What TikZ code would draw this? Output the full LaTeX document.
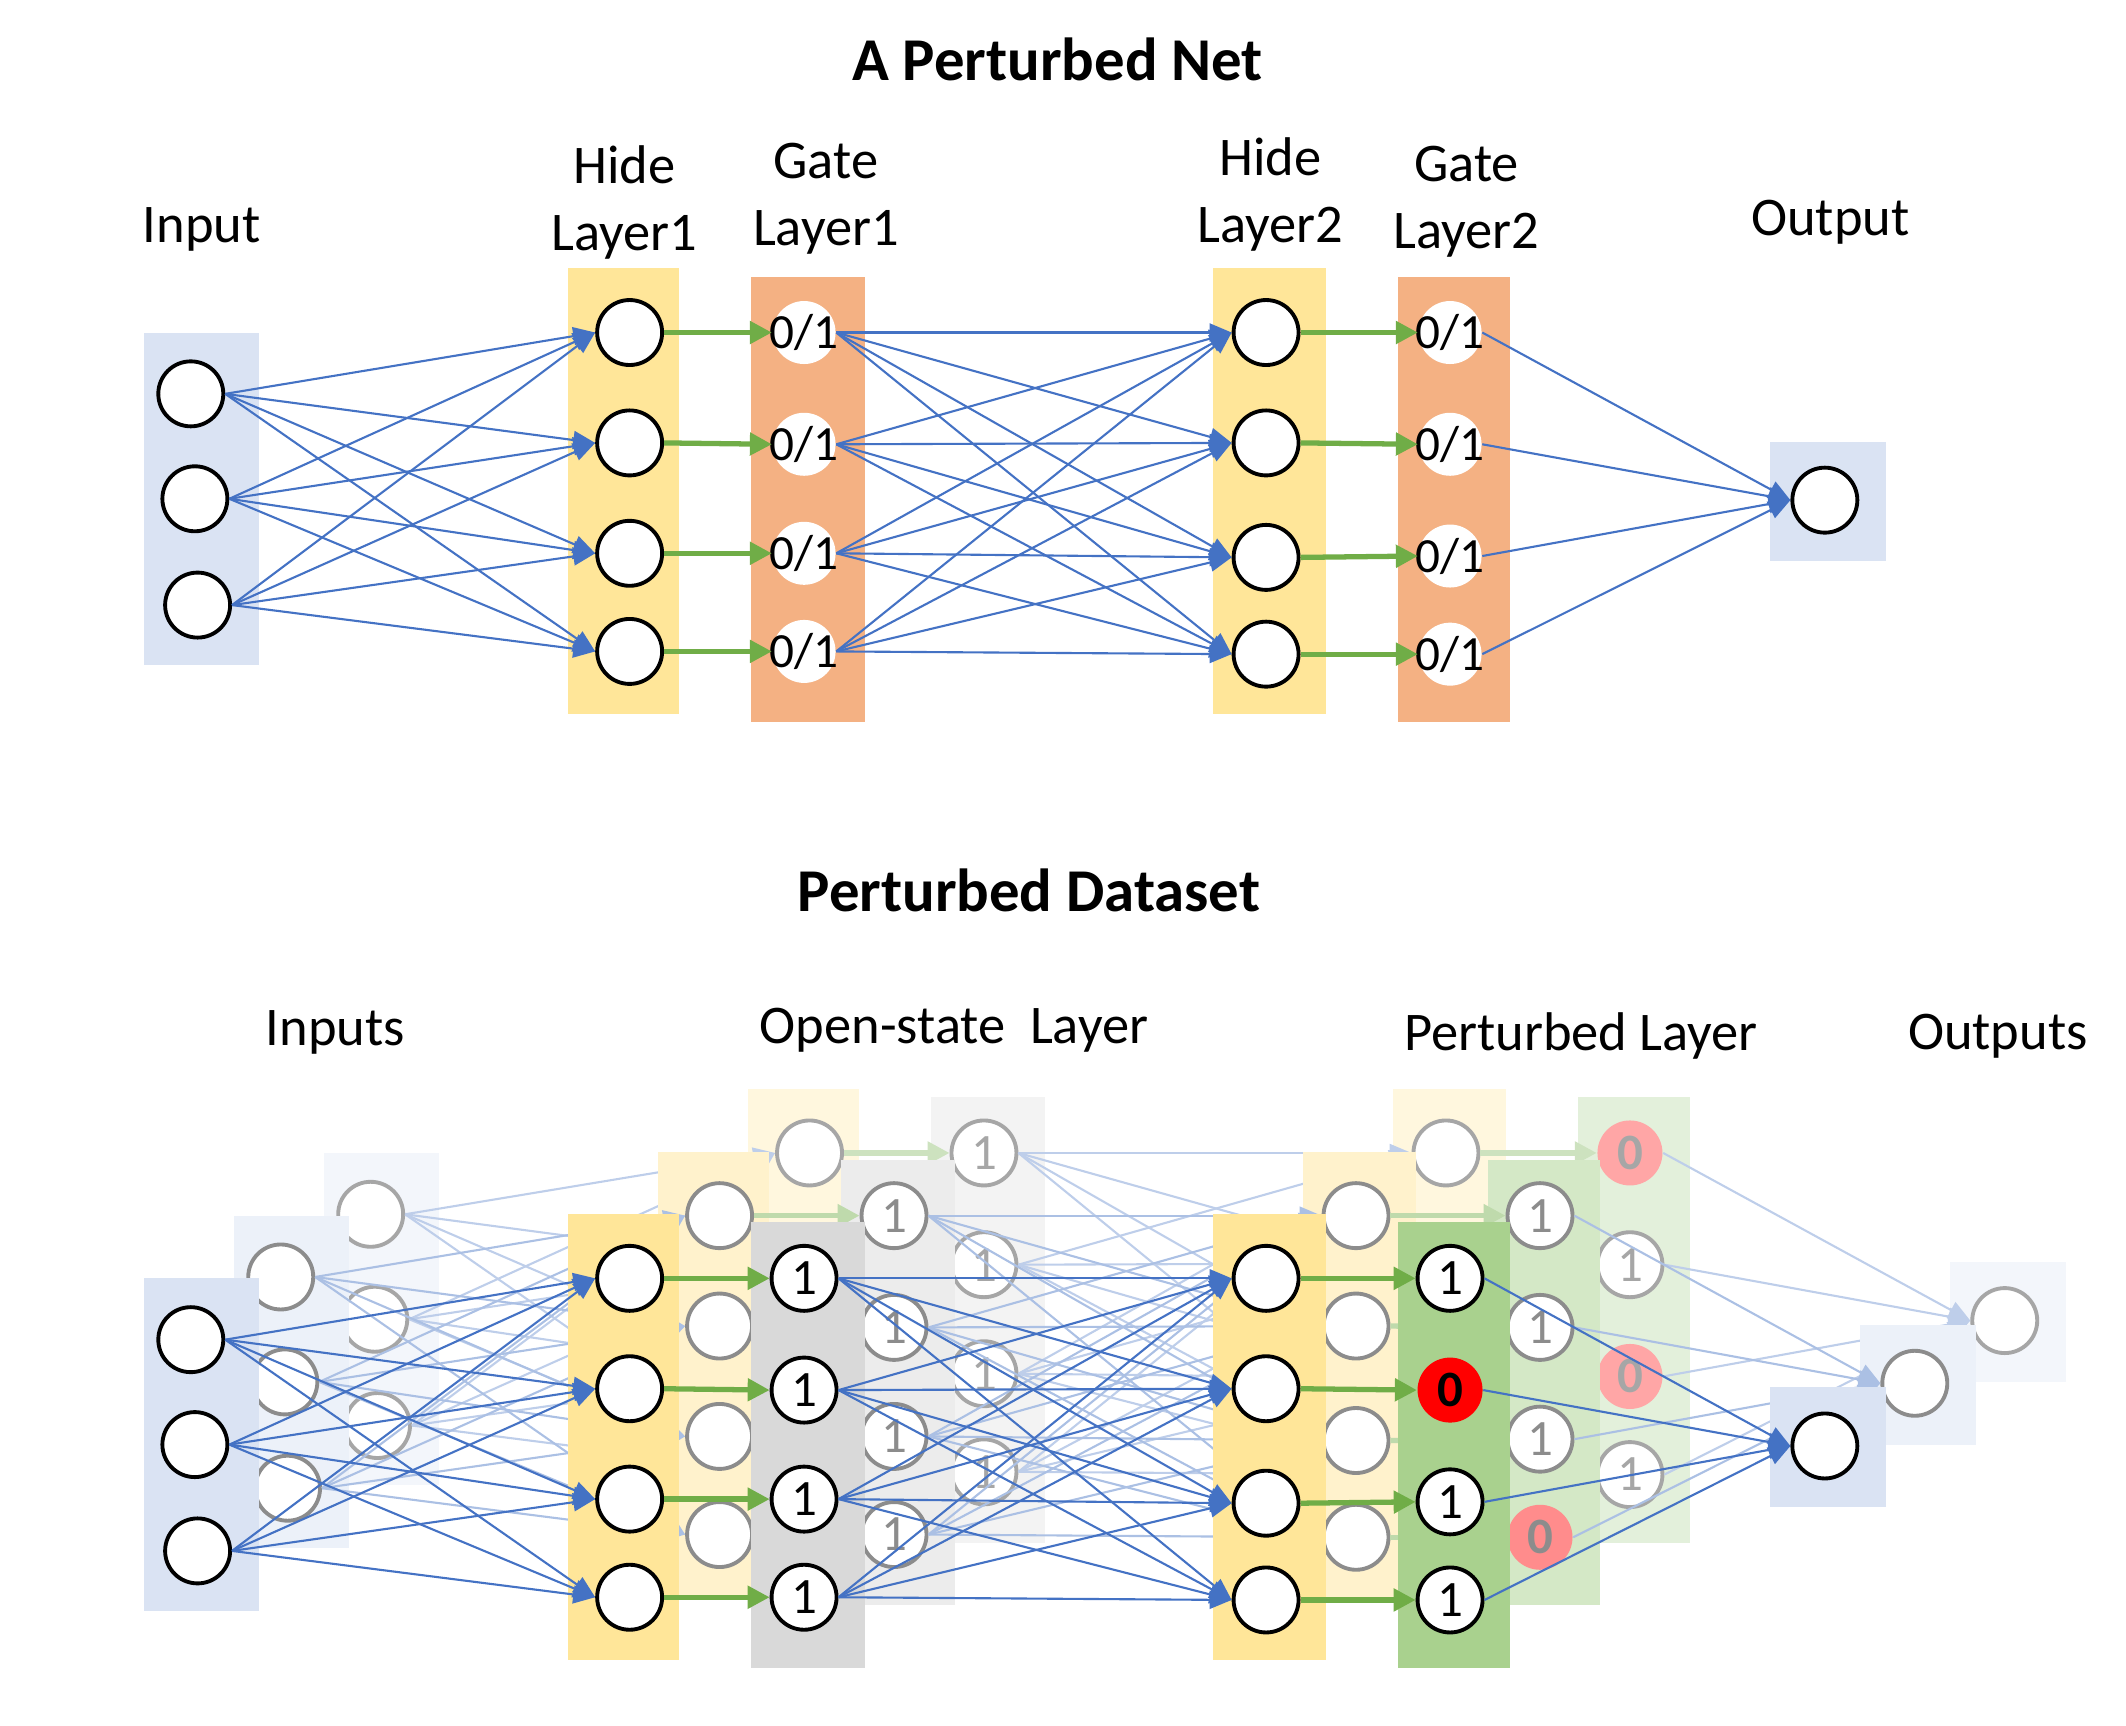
\documentclass[tikz,border=0pt]{standalone}
\usepackage{fontspec}
\setmainfont{Carlito}
\usetikzlibrary{arrows.meta,positioning,calc}

\definecolor{inblue}{HTML}{DAE3F3}
\definecolor{hideyel}{HTML}{FFE699}
\definecolor{gateorg}{HTML}{F4B183}
\definecolor{gategry}{HTML}{D9D9D9}
\definecolor{gategrn}{HTML}{A9D18E}
\definecolor{wireblue}{HTML}{4472C4}
\definecolor{passgrn}{HTML}{70AD47}

\newcommand{\fillpct}{100}
\newcommand{\inkpct}{100}

\tikzset{
  panel/.style={fill=#1!\fillpct!white},
  neuron/.style={circle, draw=black!\inkpct!white, fill=white, line width=1.1pt,
    minimum size=6.5mm, inner sep=0pt},
  wire/.style={draw=wireblue!\inkpct!white, line width=0.6pt,
    -{Triangle[length=2.2mm,width=1.8mm]}},
  pass/.style={draw=passgrn!\inkpct!white, line width=1.5pt,
    -{Triangle[length=2.2mm,width=2.2mm]}},
  gatex/.style={circle, fill=white, minimum size=6.3mm, inner sep=0pt,
    font=\fontsize{14pt}{14pt}\selectfont, node contents={\makebox[0pt]{0/1}}},
  gate1/.style={neuron, text=black!\inkpct!white,
    font=\fontsize{14.5pt}{14.5pt}\selectfont, node contents={1}},
  gate0/.style={circle, fill=red!\inkpct!white, minimum size=6.5mm, inner sep=0pt,
    text=black!\inkpct!white, font=\bfseries\fontsize{14.5pt}{14.5pt}\selectfont,
    node contents={0}},
  layertext/.style={font=\fontsize{15.5pt}{19pt}\selectfont, align=center, anchor=base},
  titletext/.style={font=\bfseries\fontsize{17.3pt}{20pt}\selectfont, anchor=base},
}

% one copy of the net: id, shift, fill %, ink %, gate A states, gate B states, gate colours
\newcommand{\drawnet}[8]{%
  \renewcommand{\fillpct}{#3}\renewcommand{\inkpct}{#4}%
  \begin{scope}[shift={#2}]
    % layer panels
    \fill[panel=inblue] (106,244) rectangle (190,488);
    \fill[panel=hideyel] (417,197) rectangle (498,524);
    \fill[panel=#7] (551,203) rectangle (635,530);
    \fill[panel=hideyel] (890,197) rectangle (973,524);
    \fill[panel=#8] (1026,203) rectangle (1108,530);
    \fill[panel=inblue] (1299,324) rectangle (1384,412);
    % neurons
    \foreach \x/\y [count=\i] in {140/289,143/366,145/444}
      \node[neuron] (#1in\i) at (\x,\y) {};
    \foreach \y [count=\i] in {244,325,406,478}
      \node[neuron] (#1hA\i) at (462,\y) {};
    \foreach \y [count=\i] in {244,325,409,480}
      \node[neuron] (#1hB\i) at (929,\y) {};
    \node[neuron] (#1out) at (1339,367) {};
    % gates
    \foreach \lab [count=\i] in {#5} {
      \pgfmathsetmacro{\gy}{{244,326,406,478}[\i-1]}
      \node (#1gA\i) at (590,\gy) [gate\lab];
    }
    \foreach \lab [count=\i] in {#6} {
      \pgfmathsetmacro{\gy}{{244,326,408,480}[\i-1]}
      \node (#1gB\i) at (1064,\gy) [gate\lab];
    }
    % connections
    \foreach \i in {1,2,3}
      \foreach \j in {1,...,4}
        \draw[wire] (#1in\i.east) -- (#1hA\j.west);
    \foreach \i in {1,...,4} {
      \draw[pass] (#1hA\i.east) -- (#1gA\i.west);
      \draw[pass] (#1hB\i.east) -- (#1gB\i.west);
      \draw[wire] (#1gB\i.east) -- (#1out.west);
      \foreach \j in {1,...,4}
        \draw[wire] (#1gA\i.east) -- (#1hB\j.west);
    }
  \end{scope}}

\begin{document}
\begin{tikzpicture}[x=0.1363mm, y=-0.1363mm]
  \useasboundingbox (0,0) rectangle (1560,1266);

  % top: the perturbed net
  \node[titletext] (netTitle) at (776,59) {A Perturbed Net};
  \node[layertext] (inLab) at (148,178) {Input};
  \node[layertext] (hALab) at (458,184) {Hide\\Layer1};
  \node[layertext] (gALab) at (606,180) {Gate\\Layer1};
  \node[layertext] (hBLab) at (932,178) {Hide\\Layer2};
  \node[layertext] (gBLab) at (1076,182) {Gate\\Layer2};
  \node[layertext] (outLab) at (1343,173) {Output};
  \drawnet{t}{(0,0)}{100}{100}{x,x,x,x}{x,x,x,x}{gateorg}{gateorg}

  % bottom: the perturbed dataset
  \node[titletext] (dataTitle) at (755,669) {Perturbed Dataset};
  \node[layertext] (insLab) at (246,767) {Inputs};
  \node[layertext] (openLab) at (700,766) {Open-state\ \ Layer};
  \node[layertext] (pertLab) at (1160,771) {Perturbed Layer};
  \node[layertext] (outsLab) at (1466,770) {Outputs};
  \drawnet{c}{(132,602)}{32}{35}{1,1,1,1}{0,1,0,1}{gategry}{gategrn}
  \drawnet{b}{(66,648)}{50}{45}{1,1,1,1}{1,1,1,0}{gategry}{gategrn}
  \drawnet{a}{(0,694)}{100}{100}{1,1,1,1}{1,0,1,1}{gategry}{gategrn}
\end{tikzpicture}
\end{document}
